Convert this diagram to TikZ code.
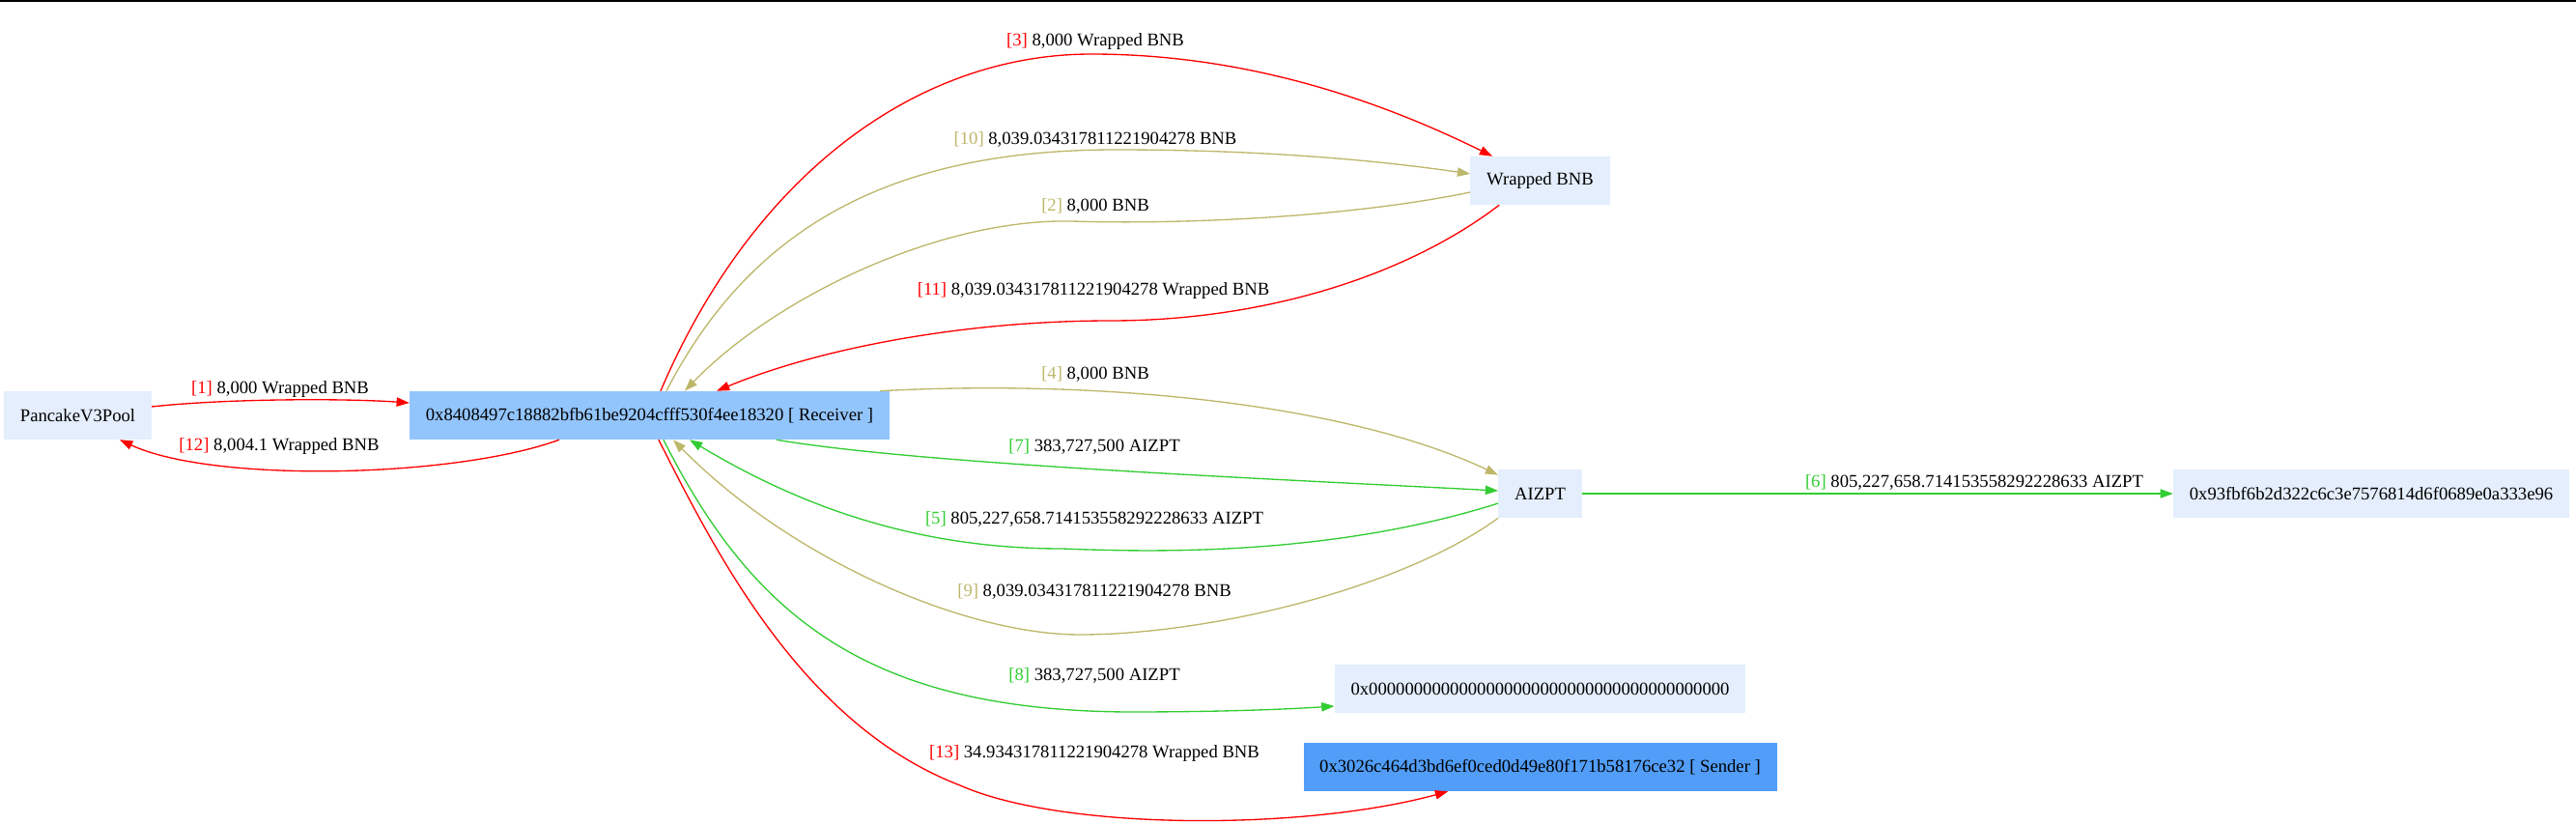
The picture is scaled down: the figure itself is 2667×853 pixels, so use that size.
\documentclass[tikz,border=0pt]{standalone}
\usepackage{fontspec}
\setmainfont{Liberation Serif}
\usetikzlibrary{arrows.meta,calc}
\definecolor{cred}{HTML}{FF0000}
\definecolor{colive}{HTML}{BDB76B}
\definecolor{cgreen}{HTML}{32CD32}
\definecolor{nlight}{HTML}{E4EEFC}
\definecolor{nrecv}{HTML}{93C5FD}
\definecolor{nsend}{HTML}{519DF8}
\begin{document}
\begin{tikzpicture}[x=0.75pt,y=-0.75pt,
  box/.style={draw=none,fill=nlight,inner xsep=12.5pt,inner ysep=0pt,minimum height=37.5pt,font=\fontsize{14}{16}\selectfont},
  lbl/.style={inner sep=0pt,font=\fontsize{14}{16}\selectfont},
  flow/.style={line width=1pt,-{Triangle[length=10pt,width=7pt]}},
  fred/.style={flow,draw=cred,-{Triangle[length=10pt,width=7pt,fill=cred]}},
  folive/.style={flow,draw=colive,-{Triangle[length=10pt,width=7pt,fill=colive]}},
  fgreen/.style={flow,draw=cgreen,-{Triangle[length=10pt,width=7pt,fill=cgreen]}}]
\useasboundingbox (0,0) rectangle (2667,853);
\fill[black] (0,0) rectangle (2667,2);

% nodes
\node[box] (pool) at (80.5,430) {PancakeV3Pool};
\node[box,fill=nrecv] (rcv) at (672.5,430) {0x8408497c18882bfb61be9204cfff530f4ee18320 [ Receiver ]};
\node[box] (wbnb) at (1594.5,187) {Wrapped BNB};
\node[box] (aizpt) at (1594.5,511) {AIZPT};
\node[box] (dst) at (2455,511) {0x93fbf6b2d322c6c3e7576814d6f0689e0a333e96};
\node[box] (zero) at (1594.5,713) {0x0000000000000000000000000000000000000000};
\node[box,fill=nsend] (sender) at (1594.5,794) {0x3026c464d3bd6ef0ced0d49e80f171b58176ce32 [ Sender ]};

% edges
% [1]
\draw[fred] ($(pool.east)+(0,-9)$) .. controls (230,413) and (350,412) .. ($(rcv.west)+(0,-13)$);
% [12]
\draw[fred] ($(rcv.south west)+(155,0)$) .. controls (470,495) and (220,500) .. ($(pool.south west)+(120,0)$);
% [3]
\draw[fred] ($(rcv.north west)+(260,0)$) .. controls (780,180) and (950,56) .. (1130,56)
   .. controls (1300,56) and (1440,110) .. ($(wbnb.north west)+(23,0)$);
% [10]
\draw[folive] ($(rcv.north west)+(266,0)$) .. controls (780,230) and (930,155) .. (1155,155)
   .. controls (1300,155) and (1420,165) .. ($(wbnb.west)+(0,-7)$);
% [2]
\draw[folive] ($(wbnb.west)+(0,12)$) .. controls (1380,228) and (1200,232) .. (1110,229)
   .. controls (970,226) and (800,310) .. ($(rcv.north west)+(285,0)$);
% [11]
\draw[fred] ($(wbnb.south west)+(30,0)$) .. controls (1450,290) and (1300,332) .. (1150,332)
   .. controls (1000,332) and (850,360) .. ($(rcv.north west)+(318,0)$);
% [4]
\draw[folive] ($(rcv.north east)+(-10,0)$) .. controls (1150,392) and (1400,420) .. ($(aizpt.north west)+(0,6)$);
% [7]
\draw[fgreen] ($(rcv.south east)+(-117,0)$) .. controls (950,480) and (1300,495) .. ($(aizpt.west)+(0,-3)$);
% [5]
\draw[fgreen] ($(aizpt.west)+(0,10)$) .. controls (1380,575) and (1200,572) .. (1100,568)
   .. controls (950,568) and (830,525) .. ($(rcv.south west)+(290,0)$);
% [9]
\draw[folive] (aizpt.south west) .. controls (1450,610) and (1250,657) .. (1118,657)
   .. controls (1000,657) and (820,580) .. ($(rcv.south west)+(273,0)$);
% [6]
\draw[fgreen] (aizpt.east) -- (dst.west);
% [8]
\draw[fgreen] ($(rcv.south west)+(263,0)$) .. controls (780,640) and (900,735) .. (1167,737)
   .. controls (1250,737) and (1320,735) .. ($(zero.west)+(0,18)$);
% [13]
\draw[fred] ($(rcv.south west)+(258,0)$) .. controls (740,570) and (830,750) .. (994,813)
   .. controls (1100,860) and (1350,860) .. ($(sender.south west)+(150,0)$);

% labels
\node[lbl] (l1) at (290,403) {\textcolor{cred}{[1]} 8,000 Wrapped BNB};
\node[lbl] (l12) at (289,462) {\textcolor{cred}{[12]} 8,004.1 Wrapped BNB};
\node[lbl] (l3) at (1134,43) {\textcolor{cred}{[3]} 8,000 Wrapped BNB};
\node[lbl] (l10) at (1134,144) {\textcolor{colive}{[10]} 8,039.034317811221904278 BNB};
\node[lbl] (l2) at (1134,213) {\textcolor{colive}{[2]} 8,000 BNB};
\node[lbl] (l11) at (1132,301) {\textcolor{cred}{[11]} 8,039.034317811221904278 Wrapped BNB};
\node[lbl] (l4) at (1134,387) {\textcolor{colive}{[4]} 8,000 BNB};
\node[lbl] (l7) at (1133,462) {\textcolor{cgreen}{[7]} 383,727,500 AIZPT};
\node[lbl] (l5) at (1133,537) {\textcolor{cgreen}{[5]} 805,227,658.714153558292228633 AIZPT};
\node[lbl] (l9) at (1133,612) {\textcolor{colive}{[9]} 8,039.034317811221904278 BNB};
\node[lbl] (l8) at (1133,699) {\textcolor{cgreen}{[8]} 383,727,500 AIZPT};
\node[lbl] (l13) at (1133,780) {\textcolor{cred}{[13]} 34.934317811221904278 Wrapped BNB};
\node[lbl] (l6) at (2044,499) {\textcolor{cgreen}{[6]} 805,227,658.714153558292228633 AIZPT};
\end{tikzpicture}
\end{document}
